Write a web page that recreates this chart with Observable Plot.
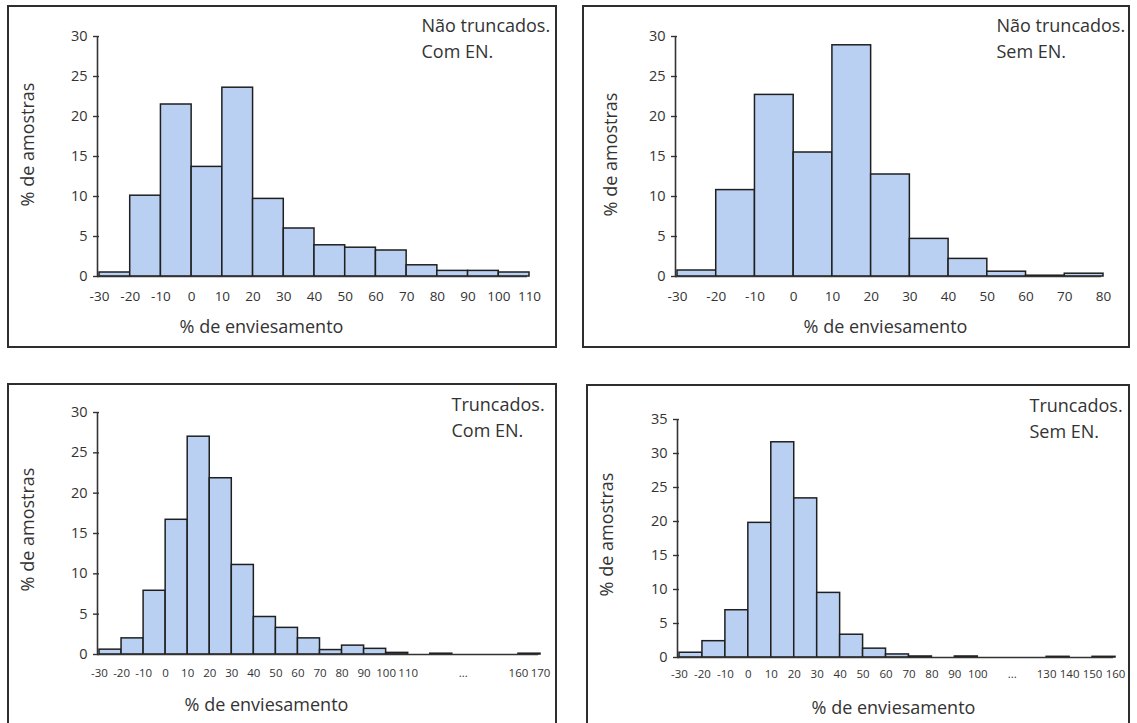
<!DOCTYPE html>
<html>
<head>
<meta charset="utf-8">
<script src="https://cdn.jsdelivr.net/npm/d3@7"></script>
<script src="https://cdn.jsdelivr.net/npm/@observablehq/plot@0.6"></script>
<style>
  html, body { margin: 0; padding: 0; background: #fff; }
  #root { position: relative; width: 1137px; height: 723px; overflow: hidden; background: #fff; }
  .panel { position: absolute; border: 2px solid #2e2e2e; box-sizing: border-box; background: #fff; }
  .panel svg { position: absolute; left: 0; top: 0; }
</style>
</head>
<body>
<div id="root"></div>
<script>
// ---------- data ----------
const p1Edges = [-30, -20, -10, 0, 10, 20, 30, 40, 50, 60, 70, 80, 90, 100, 110];
const p1Values = [0.5, 10.1, 21.5, 13.7, 23.6, 9.7, 6.0, 3.9, 3.6, 3.25, 1.4, 0.7, 0.7, 0.5];
const p1Ticks = [-30, -20, -10, 0, 10, 20, 30, 40, 50, 60, 70, 80, 90, 100, 110];
const p1TickLabels = ["-30", "-20", "-10", "0", "10", "20", "30", "40", "50", "60", "70", "80", "90", "100", "110"];

const p2Edges = [-30, -20, -10, 0, 10, 20, 30, 40, 50, 60, 70, 80];
const p2Values = [0.75, 10.8, 22.7, 15.5, 28.9, 12.75, 4.7, 2.2, 0.6, 0.1, 0.35];
const p2Ticks = [-30, -20, -10, 0, 10, 20, 30, 40, 50, 60, 70, 80];
const p2TickLabels = ["-30", "-20", "-10", "0", "10", "20", "30", "40", "50", "60", "70", "80"];

const p3Edges = [-30, -20, -10, 0, 10, 20, 30, 40, 50, 60, 70, 80, 90, 100, 110, 120, 130, 140, 150, 160, 170];
const p3Values = [0.6, 2.0, 7.9, 16.7, 27.0, 21.85, 11.1, 4.65, 3.3, 2.0, 0.55, 1.1, 0.7, 0.2, 0, 0.1, 0, 0, 0, 0.1];
const p3Ticks = [-30, -20, -10, 0, 10, 20, 30, 40, 50, 60, 70, 80, 90, 100, 110, 135, 160, 170];
const p3TickLabels = ["-30", "-20", "-10", "0", "10", "20", "30", "40", "50", "60", "70", "80", "90", "100", "110", "...", "160", "170"];

const p4Edges = [-30, -20, -10, 0, 10, 20, 30, 40, 50, 60, 70, 80, 90, 100, 110, 120, 130, 140, 150, 160];
const p4Values = [0.7, 2.4, 6.95, 19.8, 31.65, 23.4, 9.5, 3.35, 1.3, 0.45, 0.15, 0, 0.15, 0, 0, 0, 0.1, 0, 0.1];
const p4Ticks = [-30, -20, -10, 0, 10, 20, 30, 40, 50, 60, 70, 80, 90, 100, 115, 130, 140, 150, 160];
const p4TickLabels = ["-30", "-20", "-10", "0", "10", "20", "30", "40", "50", "60", "70", "80", "90", "100", "...", "130", "140", "150", "160"];

const yTicks30 = [0, 5, 10, 15, 20, 25, 30];
const yTicks35 = [0, 5, 10, 15, 20, 25, 30, 35];

const yTitle = "% de amostras";
const xTitle = "% de enviesamento";
const notes = [
  ["Não truncados.", "Com EN."],
  ["Não truncados.", "Sem EN."],
  ["Truncados.", "Com EN."],
  ["Truncados.", "Sem EN."]
];

// ---------- layout ----------
const panels = [
  { box: {left: 7, top: 5, w: 550, h: 343}, m: {l: 90, r: 26, t: 29, b: 70},
    edges: p1Edges, values: p1Values, ticks: p1Ticks, labels: p1TickLabels, yTicks: yTicks30, yMax: 30,
    tickFont: 13.5, tickPad: 15, note: notes[0], noteX: 421, noteTop: 13,
    yTitleX: 28, yTitleY: 144, xTitleX: 261, xTitleY: 327 },
  { box: {left: 582, top: 5, w: 548, h: 343}, m: {l: 93, r: 25, t: 29, b: 70},
    edges: p2Edges, values: p2Values, ticks: p2Ticks, labels: p2TickLabels, yTicks: yTicks30, yMax: 30,
    tickFont: 13.5, tickPad: 15, note: notes[1], noteX: 996, noteTop: 13,
    yTitleX: 611, yTitleY: 154, xTitleX: 885, xTitleY: 327 },
  { box: {left: 7, top: 383, w: 550, h: 350}, m: {l: 90, r: 15, t: 27, b: 77},
    edges: p3Edges, values: p3Values, ticks: p3Ticks, labels: p3TickLabels, yTicks: yTicks30, yMax: 30,
    tickFont: 11.5, tickPad: 14, note: notes[2], noteX: 451, noteTop: 392,
    yTitleX: 28, yTitleY: 529, xTitleX: 266, xTitleY: 705 },
  { box: {left: 586, top: 384, w: 544, h: 350}, m: {l: 91, r: 13, t: 33, b: 75},
    edges: p4Edges, values: p4Values, ticks: p4Ticks, labels: p4TickLabels, yTicks: yTicks35, yMax: 35,
    tickFont: 11.5, tickPad: 12, note: notes[3], noteX: 1029, noteTop: 393,
    yTitleX: 607, yTitleY: 534, xTitleX: 893, xTitleY: 708 }
];

const root = document.getElementById("root");
const ink = "#333333";

for (const p of panels) {
  const innerW = p.box.w - 4, innerH = p.box.h - 4;
  const ox = p.box.left + 2, oy = p.box.top + 2;
  const fx = (ax) => ax - ox - p.m.l;   // offset from frame left
  const fy = (ay) => ay - oy - p.m.t;   // offset from frame top

  const bars = p.values.map((v, i) => ({x1: p.edges[i], x2: p.edges[i + 1], v})).filter(d => d.v > 0);
  const xMin = p.edges[0], xMax = p.edges[p.edges.length - 1];
  const xTickData = p.ticks.map((t, i) => ({t, label: p.labels[i]}));

  const chart = Plot.plot({
    width: innerW,
    height: innerH,
    marginLeft: p.m.l, marginRight: p.m.r, marginTop: p.m.t, marginBottom: p.m.b,
    style: {fontFamily: "'Open Sans', sans-serif", color: ink, background: "white", overflow: "visible"},
    x: {type: "linear", domain: [xMin, xMax], axis: null},
    y: {type: "linear", domain: [0, p.yMax], axis: null},
    marks: [
      Plot.rect(bars, {x1: "x1", x2: "x2", y1: 0, y2: "v", fill: "#bad0f2", stroke: "#1f1f1f", strokeWidth: 1.5}),
      Plot.ruleY([0], {x1: xMin, x2: xMax, stroke: ink, strokeWidth: 1.6, dx: -2}),
      Plot.ruleX([xMin], {y1: 0, y2: p.yMax, stroke: ink, strokeWidth: 1.6, dx: -2}),
      // y tick marks (outside, left of the axis line)
      Plot.axisY({ticks: p.yTicks, tickSize: 6, tickFormat: () => "", label: null, stroke: ink, strokeWidth: 1.4}),
      // y tick labels
      Plot.text(p.yTicks, {y: d => d, frameAnchor: "left", textAnchor: "end", dx: -12, fontSize: 14.5, fill: ink}),
      // x tick labels
      Plot.text(xTickData, {x: "t", text: "label", frameAnchor: "bottom", lineAnchor: "top", dy: p.tickPad,
                  fontSize: p.tickFont, fill: ink}),
      Plot.text([p.note.join("\n")], {frameAnchor: "top-left", textAnchor: "start", lineAnchor: "top",
                  dx: fx(p.noteX), dy: fy(p.noteTop), fontSize: 18, lineHeight: 1.45, fill: ink}),
      Plot.text([yTitle], {frameAnchor: "top-left", textAnchor: "middle", lineAnchor: "middle", rotate: -90,
                  dx: fx(p.yTitleX), dy: fy(p.yTitleY), fontSize: 18, fill: ink}),
      Plot.text([xTitle], {frameAnchor: "top-left", textAnchor: "middle", lineAnchor: "middle",
                  dx: fx(p.xTitleX), dy: fy(p.xTitleY), fontSize: 18, fill: ink})
    ]
  });

  const div = document.createElement("div");
  div.className = "panel";
  div.style.left = p.box.left + "px";
  div.style.top = p.box.top + "px";
  div.style.width = p.box.w + "px";
  div.style.height = p.box.h + "px";
  div.appendChild(chart);
  root.appendChild(div);
}
</script>
</body>
</html>
